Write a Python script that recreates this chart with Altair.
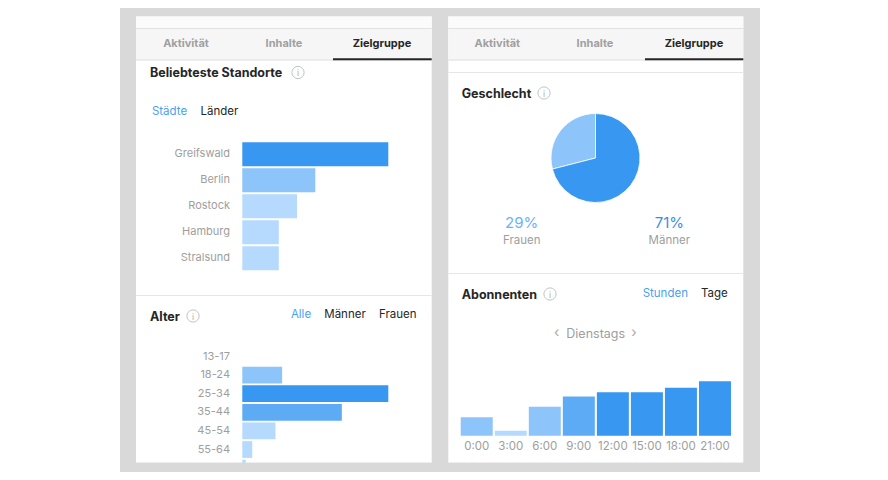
import altair as alt
import pandas as pd

# ---------------- data ----------------
cities = ["Greifswald", "Berlin", "Rostock", "Hamburg", "Stralsund"]
city_share = [40, 20, 15, 10, 10]

age_groups = ["13-17", "18-24", "25-34", "35-44", "45-54", "55-64", "65+"]
age_share = [0, 12, 44, 30, 10, 3, 1]

genders = ["Frauen", "Männer"]
gender_share = [29, 71]

hours = ["0:00", "3:00", "6:00", "9:00", "12:00", "15:00", "18:00", "21:00"]
hour_values = [34, 9, 53, 72, 80, 80, 88, 100]

# ---------------- style ----------------
FONT = "Inter"
DARK = "#3897f0"
MED = "#5eabf5"
LIGHT = "#8dc4fa"
LIGHTEST = "#b5dafd"
GRAY_TXT = "#9e9e9e"
BLACK = "#262626"


def P(v):
    return v - 8  # page margin offset


one = pd.DataFrame({"k": [0]})


def rect(x1, y1, x2, y2, color):
    return alt.Chart(one).mark_rect(color=color).encode(
        x=alt.value(P(x1)), x2=alt.value(P(x2)), y=alt.value(P(y1)), y2=alt.value(P(y2))
    )


def txt(s, x, y, size=12, color=BLACK, weight="normal", align="left"):
    return alt.Chart(one).mark_text(
        text=s, align=align, baseline="middle", fontSize=size, fontWeight=weight,
        color=color, font=FONT
    ).encode(x=alt.value(P(x)), y=alt.value(P(y)))


def info(x, y):
    c = alt.Chart(one).mark_point(shape="circle", size=150, filled=False, color="#ababab",
                                  strokeWidth=1).encode(x=alt.value(P(x)), y=alt.value(P(y)))
    i = txt("i", x, y + 0.5, size=8.5, color="#ababab", align="center")
    return [c, i]


layers = []
# background
layers.append(rect(120, 8, 760, 472, "#d9d9d9"))
for (l, r) in [(136, 431.7), (448.3, 743.3)]:
    layers.append(rect(l, 16.5, r, 462.7, "#ffffff"))
    layers.append(rect(l, 16.5, r, 28, "#fbfbfb"))
    layers.append(rect(l, 28, r, 59.5, "#f6f6f6"))
    layers.append(rect(l, 28, r, 29, "#e2e2e2"))
    layers.append(rect(l, 59.5, r, 60.5, "#dcdcdc"))
# active tab underline
layers.append(rect(333, 58.3, 431.7, 60.3, "#262626"))
layers.append(rect(645, 58.3, 743.3, 60.3, "#262626"))
# separators
layers.append(rect(448.3, 72, 743.3, 73, "#e6e6e6"))
layers.append(rect(136, 295, 431.7, 296, "#e6e6e6"))
layers.append(rect(448.3, 273, 743.3, 274, "#e6e6e6"))

# tabs
for cx_a, cx_i, cx_z in [(186, 284, 382), (497.3, 595, 694)]:
    layers.append(txt("Aktivität", cx_a, 43.5, 11, "#a0a0a0", "bold", "center"))
    layers.append(txt("Inhalte", cx_i, 43.5, 11, "#a0a0a0", "bold", "center"))
    layers.append(txt("Zielgruppe", cx_z, 43.5, 11, BLACK, "bold", "center"))

# left panel texts
layers.append(txt("Beliebteste Standorte", 150, 72.5, 12.5, BLACK, "bold"))
layers += info(298, 72.5)
layers.append(txt("Städte", 169.5, 111.5, 11.5, "#4a9ff2", "normal", "center"))
layers.append(txt("Länder", 219.5, 111.5, 11.5, BLACK, "normal", "center"))
layers.append(txt("Alter", 150, 316.5, 12.5, BLACK, "bold"))
layers += info(193, 316)
layers.append(txt("Alle", 301, 315, 11.5, "#4a9ff2", "normal", "center"))
layers.append(txt("Männer", 345, 315, 11.5, BLACK, "normal", "center"))
layers.append(txt("Frauen", 397.7, 315, 11.5, BLACK, "normal", "center"))

# right panel texts
layers.append(txt("Geschlecht", 461.7, 93.5, 12.5, BLACK, "bold"))
layers += info(544, 93)
layers.append(txt("Abonnenten", 461.7, 294.5, 12.5, BLACK, "bold"))
layers += info(550, 294)
layers.append(txt("Stunden", 665.3, 293.5, 11.5, "#4a9ff2", "normal", "center"))
layers.append(txt("Tage", 714.3, 293.5, 11.5, BLACK, "normal", "center"))
layers.append(txt("‹", 556.7, 333, 14, "#a8a8a8", "normal", "center"))
layers.append(txt("Dienstags", 595.7, 333.5, 12.5, GRAY_TXT, "normal", "center"))
layers.append(txt("›", 634, 333, 14, "#a8a8a8", "normal", "center"))

# ---------------- cities bars ----------------
city_df = pd.DataFrame({"city": cities, "share": city_share})
city_scale_kw = dict(domain=cities, range=[P(141.3), P(271.3)], paddingInner=0.08, paddingOuter=0.04)
layers.append(alt.Chart(city_df).mark_bar().encode(
    x=alt.X("share:Q", axis=None, scale=alt.Scale(domain=[0, 40], range=[P(242.3), P(388.3)], nice=False)),
    y=alt.Y("city:N", sort=cities, axis=None, scale=alt.Scale(**city_scale_kw)),
    color=alt.Color("share:Q", legend=None,
                    scale=alt.Scale(type="threshold", domain=[18, 30], range=[LIGHTEST, LIGHT, DARK])),
))
layers.append(alt.Chart(city_df).mark_text(align="right", baseline="middle", fontSize=11,
                                           color=GRAY_TXT, font=FONT).encode(
    x=alt.value(P(230)), y=alt.Y("city:N", sort=cities, axis=None, bandPosition=0.5,
                                 scale=alt.Scale(type="band", **city_scale_kw)),
    text="city:N"))

# ---------------- age bars ----------------
age_df = pd.DataFrame({"age": age_groups, "share": age_share})
age_scale_kw = dict(domain=age_groups, range=[P(347.2), P(347.2 + 18.6 * 7)],
                    paddingInner=0.1, paddingOuter=0.05)
layers.append(alt.Chart(age_df).mark_bar().encode(
    x=alt.X("share:Q", axis=None, scale=alt.Scale(domain=[0, 44], range=[P(242.3), P(388.3)], nice=False)),
    y=alt.Y("age:N", sort=age_groups, axis=None, scale=alt.Scale(**age_scale_kw)),
    color=alt.Color("share:Q", legend=None,
                    scale=alt.Scale(type="threshold", domain=[11, 20, 40],
                                    range=[LIGHTEST, LIGHT, MED, DARK])),
))
# the last age label lies below the visible panel edge, as in the screenshot
layers.append(alt.Chart(age_df).transform_filter(
    alt.FieldOneOfPredicate(field="age", oneOf=age_groups[:-1])
).mark_text(align="right", baseline="middle", fontSize=11,
            color=GRAY_TXT, font=FONT).encode(
    x=alt.value(P(230)),
    y=alt.Y("age:N", sort=age_groups, axis=None, bandPosition=0.5,
            scale=alt.Scale(type="band", **age_scale_kw)),
    text="age:N"))

# ---------------- gender pie ----------------
g_df = pd.DataFrame({"gender": genders, "share": gender_share})
layers.append(alt.Chart(g_df).mark_arc(radius=44.5, stroke="#ffffff", strokeWidth=0.8).encode(
    theta=alt.Theta("share:Q", stack=True),
    color=alt.Color("gender:N", legend=None,
                    scale=alt.Scale(domain=genders, range=[LIGHT, DARK])),
    order=alt.Order("gender:N", sort="descending"),
    x=alt.value(P(595.5)), y=alt.value(P(158)),
))
g_x = alt.X("gender:N", axis=None,
            scale=alt.Scale(type="point", domain=genders, range=[P(521.7), P(669.3)], padding=0))
layers.append(alt.Chart(g_df).transform_calculate(label="datum.share + '%'").mark_text(
    baseline="middle", align="center", fontSize=15, font=FONT).encode(
    x=g_x, y=alt.value(P(223.3)), text="label:N",
    color=alt.Color("gender:N", legend=None,
                    scale=alt.Scale(domain=genders, range=["#6bb2f4", "#3a8fe3"]))))
layers.append(alt.Chart(g_df).mark_text(baseline="middle", align="center", fontSize=11.5,
                                        color=GRAY_TXT, font=FONT).encode(
    x=g_x, y=alt.value(P(240.5)), text="gender:N"))

# ---------------- hours bars ----------------
h_df = pd.DataFrame({"hour": hours, "value": hour_values})
h_scale_kw = dict(domain=hours, range=[P(459.7), P(732)], paddingInner=0.06, paddingOuter=0.03)
layers.append(alt.Chart(h_df).mark_bar().encode(
    x=alt.X("hour:N", sort=hours, axis=None, scale=alt.Scale(**h_scale_kw)),
    y=alt.Y("value:Q", axis=None, scale=alt.Scale(domain=[0, 100], range=[P(435.7), P(381.3)], nice=False)),
    color=alt.Color("value:Q", legend=None,
                    scale=alt.Scale(type="threshold", domain=[20, 60, 76],
                                    range=[LIGHTEST, LIGHT, MED, DARK])),
))
layers.append(alt.Chart(h_df).mark_text(baseline="middle", align="center", fontSize=11.5,
                                        color=GRAY_TXT, font=FONT).encode(
    x=alt.X("hour:N", sort=hours, axis=None, bandPosition=0.5,
            scale=alt.Scale(type="band", **h_scale_kw)),
    y=alt.value(P(447)), text="hour:N"))

# bottom overlay (panel cut-off)
layers.append(rect(120, 462.7, 760, 472, "#d9d9d9"))

chart = alt.layer(*layers).resolve_scale(
    x="independent", y="independent", color="independent"
).properties(width=872, height=464, padding=0, autosize="none").configure_view(strokeWidth=0)

chart.save("out.html", embed_options={"renderer": "svg", "actions": False})
